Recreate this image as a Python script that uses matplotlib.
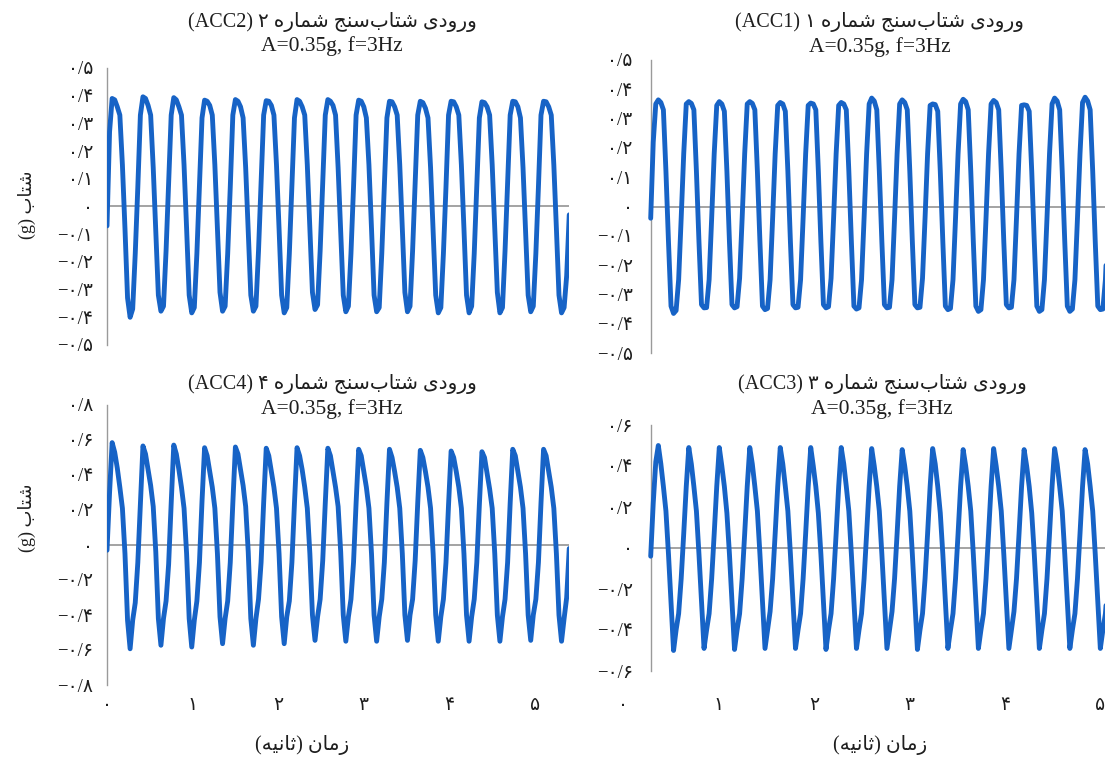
import numpy as np
import matplotlib

matplotlib.use("Agg")
import matplotlib.pyplot as plt

# sample step (s) and first sample time for the left / right columns
DT_LEFT = 0.03
T0_LEFT = 0.0
DT_RIGHT = 0.0266
T0_RIGHT = 0.29

# ACC2 - top left
acc2 = [
    -0.07, 0.27,
    0.390, 0.385, 0.360, 0.330, 0.150, -0.080, -0.330, -0.400, -0.370, -0.170, 0.070, 0.330,
    0.396, 0.390, 0.365, 0.330, 0.140, -0.090, -0.320, -0.378, -0.360, -0.160, 0.080, 0.330,
    0.393, 0.385, 0.360, 0.330, 0.150, -0.080, -0.320, -0.384, -0.365, -0.170, 0.070, 0.320,
    0.384, 0.380, 0.365, 0.330, 0.150, -0.080, -0.310, -0.378, -0.360, -0.170, 0.070, 0.330,
    0.386, 0.380, 0.360, 0.320, 0.140, -0.090, -0.320, -0.378, -0.360, -0.160, 0.080, 0.330,
    0.382, 0.380, 0.365, 0.330, 0.150, -0.080, -0.320, -0.384, -0.365, -0.170, 0.070, 0.320,
    0.386, 0.380, 0.360, 0.330, 0.150, -0.080, -0.310, -0.372, -0.355, -0.160, 0.080, 0.330,
    0.386, 0.380, 0.365, 0.330, 0.140, -0.090, -0.320, -0.380, -0.360, -0.170, 0.070, 0.330,
    0.384, 0.380, 0.360, 0.320, 0.150, -0.080, -0.320, -0.380, -0.365, -0.170, 0.070, 0.320,
    0.380, 0.378, 0.360, 0.330, 0.150, -0.080, -0.310, -0.380, -0.360, -0.160, 0.080, 0.330,
    0.380, 0.375, 0.355, 0.320, 0.140, -0.090, -0.320, -0.384, -0.365, -0.170, 0.070, 0.330,
    0.380, 0.378, 0.360, 0.330, 0.150, -0.080, -0.320, -0.384, -0.360, -0.170, 0.070, 0.320,
    0.378, 0.375, 0.360, 0.330, 0.150, -0.080, -0.310, -0.384, -0.365, -0.160, 0.080, 0.330,
    0.380, 0.378, 0.360, 0.320, 0.140, -0.090, -0.320, -0.380, -0.360, -0.170, 0.070, 0.330,
    0.380, 0.378, 0.360, 0.330, 0.150, -0.080, -0.320, -0.384, -0.365, -0.250, -0.030,
]

# ACC1 - top right
acc1 = [
    -0.04, 0.22, 0.35,
    0.364, 0.355, 0.330, 0.120, -0.120, -0.340, -0.365, -0.355, -0.250, -0.040, 0.180, 0.350,
    0.358, 0.352, 0.330, 0.120, -0.120, -0.335, -0.346, -0.345, -0.250, -0.040, 0.180, 0.345,
    0.358, 0.350, 0.325, 0.120, -0.120, -0.335, -0.346, -0.342, -0.245, -0.040, 0.180, 0.350,
    0.358, 0.352, 0.330, 0.120, -0.120, -0.340, -0.352, -0.348, -0.250, -0.040, 0.180, 0.345,
    0.355, 0.350, 0.325, 0.120, -0.120, -0.335, -0.346, -0.344, -0.250, -0.040, 0.180, 0.345,
    0.353, 0.350, 0.330, 0.120, -0.120, -0.335, -0.346, -0.342, -0.245, -0.040, 0.180, 0.345,
    0.355, 0.350, 0.330, 0.120, -0.120, -0.340, -0.350, -0.346, -0.250, -0.040, 0.180, 0.350,
    0.370, 0.360, 0.330, 0.120, -0.120, -0.335, -0.346, -0.344, -0.250, -0.040, 0.180, 0.350,
    0.364, 0.355, 0.330, 0.120, -0.120, -0.335, -0.346, -0.344, -0.245, -0.040, 0.180, 0.345,
    0.350, 0.348, 0.325, 0.120, -0.120, -0.340, -0.352, -0.348, -0.250, -0.040, 0.180, 0.350,
    0.366, 0.358, 0.330, 0.120, -0.120, -0.340, -0.358, -0.352, -0.250, -0.040, 0.180, 0.350,
    0.362, 0.355, 0.330, 0.120, -0.120, -0.335, -0.346, -0.344, -0.250, -0.040, 0.180, 0.345,
    0.347, 0.345, 0.325, 0.120, -0.120, -0.340, -0.358, -0.352, -0.250, -0.040, 0.180, 0.350,
    0.370, 0.360, 0.330, 0.120, -0.120, -0.340, -0.358, -0.350, -0.250, -0.040, 0.180, 0.355,
    0.373, 0.360, 0.330, 0.120, -0.120, -0.340, -0.352, -0.350, -0.250, -0.040, 0.180, 0.350,
]

# ACC4 - bottom left
acc4 = [
    -0.03, 0.30,
    0.585, 0.530, 0.440, 0.330, 0.210, -0.050, -0.430, -0.593, -0.430, -0.330, -0.100, 0.240,
    0.566, 0.520, 0.430, 0.340, 0.220, -0.040, -0.420, -0.573, -0.420, -0.320, -0.110, 0.240,
    0.571, 0.520, 0.430, 0.330, 0.210, -0.050, -0.420, -0.583, -0.430, -0.320, -0.100, 0.250,
    0.556, 0.510, 0.420, 0.330, 0.210, -0.050, -0.410, -0.564, -0.420, -0.320, -0.100, 0.240,
    0.560, 0.520, 0.430, 0.340, 0.220, -0.040, -0.420, -0.573, -0.420, -0.310, -0.100, 0.240,
    0.553, 0.510, 0.420, 0.330, 0.210, -0.050, -0.410, -0.564, -0.410, -0.320, -0.100, 0.240,
    0.556, 0.510, 0.430, 0.330, 0.210, -0.050, -0.400, -0.545, -0.410, -0.310, -0.090, 0.240,
    0.553, 0.510, 0.420, 0.330, 0.220, -0.040, -0.400, -0.550, -0.410, -0.310, -0.100, 0.240,
    0.547, 0.510, 0.420, 0.330, 0.210, -0.050, -0.400, -0.550, -0.410, -0.310, -0.100, 0.240,
    0.547, 0.500, 0.420, 0.330, 0.210, -0.050, -0.400, -0.545, -0.400, -0.310, -0.090, 0.240,
    0.541, 0.500, 0.420, 0.330, 0.210, -0.050, -0.400, -0.550, -0.410, -0.310, -0.100, 0.230,
    0.537, 0.500, 0.420, 0.330, 0.210, -0.050, -0.400, -0.550, -0.410, -0.310, -0.100, 0.230,
    0.533, 0.500, 0.410, 0.320, 0.210, -0.050, -0.400, -0.550, -0.410, -0.310, -0.100, 0.240,
    0.547, 0.510, 0.420, 0.330, 0.210, -0.050, -0.400, -0.545, -0.400, -0.310, -0.100, 0.240,
    0.547, 0.510, 0.420, 0.330, 0.210, -0.050, -0.400, -0.550, -0.420, -0.300, -0.020,
]

# ACC3 - bottom right
acc3 = [
    -0.04, 0.22, 0.42,
    0.500, 0.410, 0.300, 0.180, -0.030, -0.260, -0.500, -0.400, -0.320, -0.150, 0.070, 0.300,
    0.490, 0.410, 0.300, 0.180, -0.030, -0.260, -0.490, -0.400, -0.320, -0.150, 0.070, 0.300,
    0.490, 0.400, 0.300, 0.170, -0.030, -0.260, -0.495, -0.400, -0.320, -0.150, 0.070, 0.300,
    0.490, 0.410, 0.300, 0.180, -0.030, -0.260, -0.490, -0.400, -0.310, -0.150, 0.070, 0.300,
    0.490, 0.410, 0.300, 0.180, -0.030, -0.260, -0.490, -0.400, -0.320, -0.150, 0.070, 0.300,
    0.490, 0.400, 0.300, 0.170, -0.030, -0.260, -0.495, -0.400, -0.320, -0.150, 0.070, 0.300,
    0.490, 0.410, 0.300, 0.180, -0.030, -0.260, -0.490, -0.400, -0.320, -0.150, 0.070, 0.300,
    0.485, 0.400, 0.300, 0.180, -0.030, -0.260, -0.490, -0.400, -0.310, -0.150, 0.070, 0.300,
    0.480, 0.400, 0.300, 0.180, -0.030, -0.260, -0.495, -0.400, -0.320, -0.150, 0.070, 0.300,
    0.485, 0.410, 0.300, 0.170, -0.030, -0.260, -0.490, -0.400, -0.320, -0.150, 0.070, 0.300,
    0.480, 0.400, 0.300, 0.180, -0.030, -0.260, -0.490, -0.400, -0.320, -0.150, 0.070, 0.300,
    0.485, 0.400, 0.300, 0.180, -0.030, -0.260, -0.490, -0.400, -0.310, -0.150, 0.070, 0.300,
    0.480, 0.400, 0.300, 0.170, -0.030, -0.260, -0.490, -0.400, -0.320, -0.150, 0.070, 0.300,
    0.485, 0.410, 0.300, 0.180, -0.030, -0.260, -0.490, -0.400, -0.320, -0.150, 0.070, 0.300,
    0.480, 0.410, 0.300, 0.180, -0.030, -0.260, -0.490, -0.400, -0.320, -0.150, 0.070, 0.300,
]

x_ticks = [0, 1, 2, 3, 4, 5]
y_ticks_top = [-0.5, -0.4, -0.3, -0.2, -0.1, 0.0, 0.1, 0.2, 0.3, 0.4, 0.5]
y_ticks_acc4 = [-0.8, -0.6, -0.4, -0.2, 0.0, 0.2, 0.4, 0.6, 0.8]
y_ticks_acc3 = [-0.6, -0.4, -0.2, 0.0, 0.2, 0.4, 0.6]

TITLE_FA = "ورودی شتاب\u200cسنج شماره {}"
SUBTITLE = "A=0.35g, f=3Hz"
XLABEL_FA = "زمان (ثانیه)"
YLABEL_FA = "شتاب"

W, H = 1105, 761
LINE_COLOR = "#1763c6"
GREY = "#9a9a9a"
TEXT = "#1e1e1e"

# presentation forms: isolated, final, initial, medial
FORMS = {
    "ا": ("\uFE8D", "\uFE8E", None, None),
    "ب": ("\uFE8F", "\uFE90", "\uFE91", "\uFE92"),
    "ت": ("\uFE95", "\uFE96", "\uFE97", "\uFE98"),
    "ث": ("\uFE99", "\uFE9A", "\uFE9B", "\uFE9C"),
    "ج": ("\uFE9D", "\uFE9E", "\uFE9F", "\uFEA0"),
    "د": ("\uFEA9", "\uFEAA", None, None),
    "ر": ("\uFEAD", "\uFEAE", None, None),
    "ز": ("\uFEAF", "\uFEB0", None, None),
    "س": ("\uFEB1", "\uFEB2", "\uFEB3", "\uFEB4"),
    "ش": ("\uFEB5", "\uFEB6", "\uFEB7", "\uFEB8"),
    "م": ("\uFEE1", "\uFEE2", "\uFEE3", "\uFEE4"),
    "ن": ("\uFEE5", "\uFEE6", "\uFEE7", "\uFEE8"),
    "ه": ("\uFEE9", "\uFEEA", "\uFEEB", "\uFEEC"),
    "و": ("\uFEED", "\uFEEE", None, None),
    "ی": ("\uFBFC", "\uFBFD", "\uFBFE", "\uFBFF"),
}
FA_DIGITS = str.maketrans("0123456789", "۰۱۲۳۴۵۶۷۸۹")


def shape_fa(text):
    """Join Persian letters and return the string in left-to-right visual order."""
    out = []
    for i, ch in enumerate(text):
        if ch not in FORMS:
            if ch != "\u200c":
                out.append(ch)
            continue
        prev = text[i - 1] if i > 0 else ""
        nxt = text[i + 1] if i + 1 < len(text) else ""
        iso, fin, ini, med = FORMS[ch]
        join_prev = prev in FORMS and FORMS[prev][2] is not None
        join_next = ini is not None and nxt in FORMS
        if join_prev and join_next:
            out.append(med)
        elif join_prev:
            out.append(fin)
        elif join_next:
            out.append(ini)
        else:
            out.append(iso)
    mirror = {"(": ")", ")": "("}
    return "".join(mirror.get(c, c) for c in reversed(out))


def fa_num(v, decimals=1):
    if abs(v) < 1e-9:
        return "۰"
    s = f"{abs(v):.{decimals}f}".replace(".", "/").translate(FA_DIGITS)
    return ("−" if v < 0 else "") + s


def add_panel(fig, box, values, t0, dt, xlim, ylim, yticks, ypad, xlabels, xpad):
    left, top, right, bottom = box
    ax = fig.add_axes([left / W, 1 - bottom / H, (right - left) / W, (bottom - top) / H])
    t = t0 + dt * np.arange(len(values))
    ax.hlines(0, t[0], xlim[1], color="#8a8a8a", lw=1.1, zorder=1)
    ax.plot(t, values, color=LINE_COLOR, lw=3.5, solid_joinstyle="round",
            solid_capstyle="round", zorder=3)
    ax.set_xlim(*xlim)
    ax.set_ylim(*ylim)
    for side in ["top", "right", "bottom"]:
        ax.spines[side].set_visible(False)
    ax.spines["left"].set_color(GREY)
    ax.spines["left"].set_linewidth(1.0)
    ax.spines["left"].set_position(("data", t0))
    ax.set_yticks(yticks)
    ax.set_yticklabels([fa_num(v) for v in yticks])
    ax.tick_params(axis="y", length=0, pad=ypad, labelsize=13.5, colors=TEXT)
    if xlabels:
        ax.set_xticks(x_ticks)
        ax.set_xticklabels([fa_num(v, 0) for v in x_ticks])
        ax.tick_params(axis="x", length=0, pad=xpad, labelsize=13.5, colors=TEXT)
    else:
        ax.set_xticks([])
    ax.patch.set_alpha(0)
    return ax


def main():
    plt.rcParams["font.family"] = ["Liberation Serif", "DejaVu Sans"]
    fig = plt.figure(figsize=(W / 100, H / 100), dpi=100)

    r_scale = 95.5  # px per second, right column
    l_scale = 85.6

    add_panel(fig, (107, 68, 107 + 5.4 * l_scale, 345), acc2, T0_LEFT, DT_LEFT,
              (0, 5.4), (-0.5, 0.5), y_ticks_top, 10, False, 0)
    add_panel(fig, (623, 60, 623 + 5.15 * r_scale, 353), acc1, T0_RIGHT, DT_RIGHT,
              (0, 5.15), (-0.5, 0.5), y_ticks_top, 13, False, 0)
    add_panel(fig, (107, 405, 107 + 5.4 * l_scale, 685), acc4, T0_LEFT, DT_LEFT,
              (0, 5.4), (-0.8, 0.8), y_ticks_acc4, 10, True, 9)
    add_panel(fig, (623, 425, 623 + 5.15 * r_scale, 671), acc3, T0_RIGHT, DT_RIGHT,
              (0, 5.15), (-0.6, 0.6), y_ticks_acc3, 13, True, 19)

    titles = [(332, 22, 46, 2), (880, 22, 47, 1), (332, 384, 409, 4), (882, 384, 409, 3)]
    for x, y1, y2, n in titles:
        line1 = "(ACC{}) ".format(n) + shape_fa(TITLE_FA.format(str(n).translate(FA_DIGITS)))
        fig.text(x / W, 1 - y1 / H, line1, ha="center", va="center", fontsize=14.5, color=TEXT)
        fig.text(x / W, 1 - y2 / H, SUBTITLE, ha="center", va="center", fontsize=15.5, color=TEXT)

    xlabel = shape_fa(XLABEL_FA)
    for x in [302, 880]:
        fig.text(x / W, 1 - 745 / H, xlabel, ha="center", va="center", fontsize=14.5, color=TEXT)

    ylabel = "(g) " + shape_fa(YLABEL_FA)
    for y in [205, 518]:
        fig.text(27 / W, 1 - y / H, ylabel, ha="center", va="center", rotation=90,
                 fontsize=13, color=TEXT)

    fig.savefig("out.png", dpi=100)
    plt.close(fig)


if __name__ == "__main__":
    main()
